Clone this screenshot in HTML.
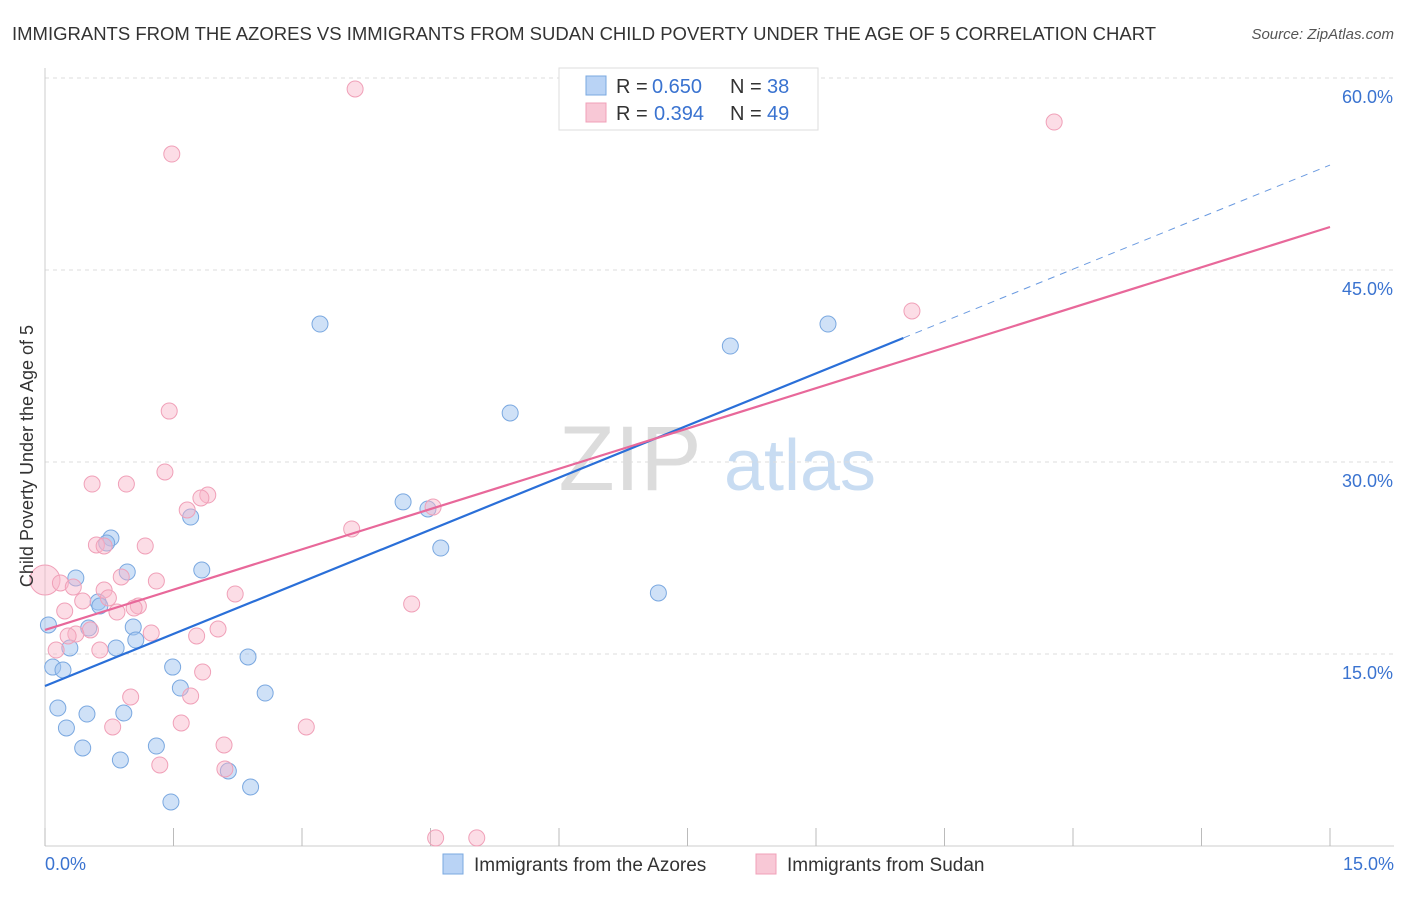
<!DOCTYPE html>
<html><head><meta charset="utf-8"><style>
body{margin:0;background:#fff;font-family:"Liberation Sans",sans-serif}
svg text{font-family:"Liberation Sans",sans-serif}
</style></head><body>
<svg width="1406" height="892" viewBox="0 0 1406 892" xmlns="http://www.w3.org/2000/svg">
<text x="12" y="40" font-size="18.5" fill="#333">IMMIGRANTS FROM THE AZORES VS IMMIGRANTS FROM SUDAN CHILD POVERTY UNDER THE AGE OF 5 CORRELATION CHART</text>
<text x="1394" y="39" font-size="15" fill="#555" text-anchor="end" font-style="italic">Source: ZipAtlas.com</text>
<g>
<text x="630" y="490" font-size="92" fill="#dcdcdc" text-anchor="middle" font-family="Liberation Serif,serif">ZIP</text>
<text x="800" y="490" font-size="72" fill="#c8dcf2" text-anchor="middle">atlas</text>
</g>
<g id="grid"></g>
<g id="marks"></g>
<g>
<rect x="559" y="68" width="259" height="62" fill="#fff" stroke="#ddd"/>
<rect x="586" y="76" width="20" height="19" fill="#b9d3f5" stroke="#7aa8e0"/>
<rect x="586" y="103" width="20" height="19" fill="#f8c8d6" stroke="#f0a0b8"/>
<text x="616" y="93" font-size="20" fill="#333">R =</text>
<text x="652" y="93" font-size="20" fill="#3a73d0">0.650</text>
<text x="730" y="93" font-size="20" fill="#333">N =</text>
<text x="767" y="93" font-size="20" fill="#3a73d0">38</text>
<text x="616" y="120" font-size="20" fill="#333">R =</text>
<text x="654" y="120" font-size="20" fill="#3a73d0">0.394</text>
<text x="730" y="120" font-size="20" fill="#333">N =</text>
<text x="767" y="120" font-size="20" fill="#3a73d0">49</text>
</g>
<g>
<rect x="443" y="854" width="20" height="20" fill="#b9d3f5" stroke="#7aa8e0"/>
<text x="474" y="871" font-size="19" fill="#333">Immigrants from the Azores</text>
<rect x="756" y="854" width="20" height="20" fill="#f8c8d6" stroke="#f0a0b8"/>
<text x="787" y="871" font-size="19" fill="#333">Immigrants from Sudan</text>
</g>
<text transform="translate(33,456) rotate(-90)" font-size="18" fill="#333" text-anchor="middle">Child Poverty Under the Age of 5</text>
<text x="45" y="870" font-size="18" fill="#3a73d0">0.0%</text>
<text x="1394" y="870" font-size="18" fill="#3a73d0" text-anchor="end">15.0%</text>
</svg>
<script>
const yTicks=[15,30,45,60];
const xTicks=[0,1.5,3,4.5,6,7.5,9,10.5,12,13.5,15];
const blueX=[3.21,8.00,9.14,5.43,4.18,4.47,4.62,7.16,1.70,0.77,0.72,1.83,0.96,0.36,0.62,0.64,0.04,0.51,1.03,1.06,0.83,0.29,0.09,0.21,2.37,1.49,1.58,2.57,0.15,0.49,0.92,0.25,0.44,1.30,0.88,2.14,2.40,1.47];
const blueY=[40.78,39.06,40.78,33.83,26.88,26.33,23.28,19.77,25.70,24.06,23.67,21.56,21.41,20.94,19.06,18.75,17.27,17.03,17.11,16.09,15.47,15.47,13.98,13.75,14.77,13.98,12.34,11.95,10.78,10.31,10.39,9.22,7.66,7.81,6.72,5.86,4.61,3.44];
const pinkX=[3.62,11.78,1.48,10.12,1.45,1.40,0.55,0.95,1.90,1.82,1.66,4.53,3.58,0.60,1.17,0.69,0,0.18,0.33,1.30,0.89,0.69,2.22,0.74,0.44,1.09,1.04,0.23,0.84,4.28,0.53,0.36,1.24,0.27,2.02,1.77,0.13,0.64,1.84,1.00,1.70,3.05,1.59,0.79,2.09,1.34,2.10,4.56,5.04];
const pinkY=[59.14,56.56,54.06,41.80,33.98,29.22,28.28,28.28,27.42,27.19,26.25,26.48,24.77,23.52,23.44,23.44,20.78,20.55,20.23,20.70,21.02,20.00,19.69,19.38,19.14,18.75,18.59,18.36,18.28,18.91,16.88,16.56,16.64,16.41,16.95,16.41,15.31,15.31,13.59,11.64,11.72,9.30,9.61,9.30,7.89,6.33,6.02,0.63,0.63];
const blueTrend=[12.5,39.69,53.2];
const blueTrendX=[0,10.02,15];
const pinkTrend=[16.88,48.36];
const pinkTrendX=[0,15];
const NS="http://www.w3.org/2000/svg";
const X=v=>45+v/15*1285, Y=v=>846-v/60*768;
function mk(t,a,p){const e=document.createElementNS(NS,t);for(const k in a)e.setAttribute(k,a[k]);p.appendChild(e);return e;}
const g=document.getElementById('grid'),m=document.getElementById('marks');
yTicks.forEach(t=>{const l=mk('line',{x1:45,x2:1394,y1:Y(t),y2:Y(t),stroke:'#ddd','stroke-dasharray':'4,4'},g);

const tx=mk('text',{x:1393,y:Y(t)+25,'font-size':18,fill:'#3a73d0','text-anchor':'end'},g);tx.textContent=t.toFixed(1)+'%';
});
const ax=mk('line',{x1:45,x2:45,y1:68,y2:846,stroke:'#ccc'},g);
const bx=mk('line',{x1:45,x2:1394,y1:846,y2:846,stroke:'#ccc'},g);
xTicks.forEach(t=>{const l=mk('line',{x1:X(t),x2:X(t),y1:828,y2:846,stroke:'#bbb'},g);});
blueX.forEach((v,i)=>{const c=mk('circle',{cx:X(v),cy:Y(blueY[i]),r:8,fill:'rgba(160,195,240,0.5)',stroke:'#7aa8e0','stroke-width':1},m);
});
pinkX.forEach((v,i)=>{const c=mk('circle',{cx:X(v),cy:Y(pinkY[i]),r:(v===0?15:8),fill:'rgba(248,180,200,0.45)',stroke:'#f0a0b8','stroke-width':1},m);
});
const b1=mk('line',{x1:X(blueTrendX[0]),y1:Y(blueTrend[0]),x2:X(blueTrendX[1]),y2:Y(blueTrend[1]),stroke:'#2a6fd8','stroke-width':2.2},m);

const b2=mk('line',{x1:X(blueTrendX[1]),y1:Y(blueTrend[1]),x2:X(blueTrendX[2]),y2:Y(blueTrend[2]),stroke:'#6a9ae0','stroke-width':1,'stroke-dasharray':'7,6'},m);

const p1=mk('line',{x1:X(pinkTrendX[0]),y1:Y(pinkTrend[0]),x2:X(pinkTrendX[1]),y2:Y(pinkTrend[1]),stroke:'#e8689a','stroke-width':2.2},m);

</script>
</body></html>
